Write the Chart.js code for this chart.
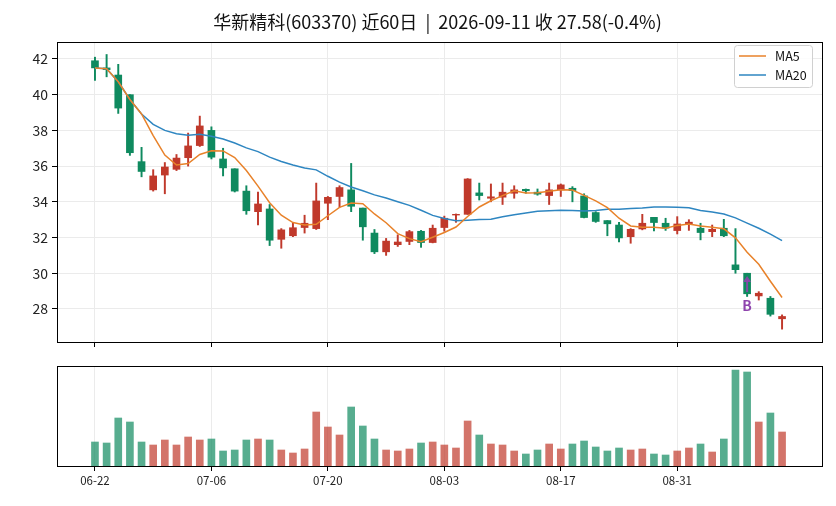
<!DOCTYPE html>
<html>
<head>
<meta charset="utf-8">
<script src="https://cdn.jsdelivr.net/npm/chart.js@4.4.1/dist/chart.umd.min.js"></script>
<style>
	body { margin: 0; background: #fff; }
	#wrap { position: relative; width: 836px; height: 506px; }
	canvas { position: absolute; left: 0; }
</style>
</head>
<body>
<div id="wrap">
	<canvas id="price-canvas" width="836" height="360" style="top:0"></canvas>
	<canvas id="vol-canvas" width="836" height="146" style="top:360px"></canvas>
</div>
<script>
// trading days
const dates = [
	'06-22','06-23','06-24','06-25','06-26','06-29','06-30','07-01','07-02','07-03',
	'07-06','07-07','07-08','07-09','07-10','07-13','07-14','07-15','07-16','07-17',
	'07-20','07-21','07-22','07-23','07-24','07-27','07-28','07-29','07-30','07-31',
	'08-03','08-04','08-05','08-06','08-07','08-10','08-11','08-12','08-13','08-14',
	'08-17','08-18','08-19','08-20','08-21','08-24','08-25','08-26','08-27','08-28',
	'08-31','09-01','09-02','09-03','09-04','09-07','09-08','09-09','09-10','09-11'
];
const tickIdx = [0, 10, 20, 30, 40, 50];
const priceTicks = [28, 30, 32, 34, 36, 38, 40, 42];

const opens = [41.9,41.5,41.1,40.0,36.25,34.67,35.5,35.82,36.47,37.15,38.0,36.4,35.85,34.6,33.45,33.6,31.9,32.1,32.56,32.5,33.92,34.3,34.67,33.65,32.25,31.2,31.6,31.78,32.35,31.72,32.56,33.26,33.3,34.5,34.2,34.26,34.48,34.7,34.54,34.35,34.67,34.76,34.33,33.4,32.95,32.7,32.05,32.48,33.13,32.8,32.39,32.74,32.52,32.33,32.52,30.47,30.0,28.73,28.6,27.45];
const highs = [42.1,42.25,41.7,40.0,37.05,35.8,36.2,36.65,37.85,38.8,38.2,37.0,35.85,34.9,34.55,33.85,32.5,32.8,33.25,35.05,34.3,34.9,36.15,33.65,32.45,31.95,32.15,32.4,32.4,32.7,33.2,33.32,35.3,35.05,35.0,35.05,34.9,34.72,34.72,35.05,35.0,34.85,34.45,33.45,32.95,32.85,32.5,33.3,33.13,33.08,33.17,33.0,32.8,32.7,33.02,32.5,30.0,28.97,28.7,27.67];
const lows = [40.8,41.0,38.95,36.6,35.4,34.6,34.45,35.75,36.0,37.1,36.4,35.45,34.55,33.3,32.7,31.55,31.4,32.05,32.25,32.45,33.0,33.7,33.45,31.85,31.1,31.0,31.5,31.6,31.45,31.7,32.35,32.85,33.3,34.1,34.0,33.85,34.2,34.48,34.37,33.85,34.3,34.0,33.1,32.85,32.1,31.75,31.68,32.43,32.37,32.4,32.2,32.4,31.87,32.05,32.05,30.0,28.7,28.5,27.6,26.87];
const closes = [41.5,41.4,39.25,36.75,35.7,35.45,35.95,36.45,37.13,38.25,36.5,35.9,34.6,33.5,33.88,31.85,32.43,32.55,32.8,34.05,34.25,34.8,33.75,32.6,31.2,31.8,31.75,32.33,31.72,32.52,33.08,33.3,35.28,34.35,34.28,34.54,34.67,34.62,34.43,34.67,34.95,34.63,33.12,32.9,32.77,31.98,32.46,32.8,32.84,32.53,32.76,32.86,32.28,32.46,32.1,30.2,28.85,28.88,27.7,27.58];

const ma5 = [41.5,41.45,40.72,39.73,38.92,37.71,36.62,36.06,36.14,36.65,36.86,36.85,36.48,35.75,34.88,33.95,33.25,32.84,32.70,32.74,33.22,33.69,33.93,33.89,33.32,32.83,32.22,31.94,31.76,32.02,32.28,32.59,33.18,33.71,34.06,34.35,34.62,34.49,34.51,34.59,34.67,34.66,34.36,34.05,33.67,33.08,32.65,32.58,32.57,32.52,32.68,32.76,32.65,32.58,32.49,31.98,31.18,30.50,29.55,28.64];
const ma20 = [41.5,41.45,40.72,39.73,38.92,38.34,38.0,37.81,37.73,37.78,37.67,37.52,37.29,37.02,36.81,36.50,36.26,36.06,35.89,35.79,35.43,35.10,34.83,34.62,34.39,34.21,34.00,33.80,33.53,33.24,33.07,32.94,32.97,33.01,33.03,33.17,33.28,33.38,33.47,33.50,33.53,33.52,33.49,33.51,33.59,33.59,33.63,33.65,33.71,33.71,33.69,33.67,33.52,33.43,33.32,33.10,32.81,32.52,32.19,31.83];

// volume (万手)
const volumes = [2.4,2.3,4.8,4.4,2.4,2.1,2.6,2.1,2.9,2.6,2.7,1.5,1.6,2.6,2.7,2.6,1.6,1.3,1.7,5.4,3.9,3.1,5.9,4.0,2.7,1.6,1.5,1.7,2.3,2.4,2.1,1.8,4.5,3.1,2.2,2.1,1.5,1.2,1.6,2.2,1.7,2.2,2.5,1.9,1.5,1.8,1.6,1.7,1.2,1.1,1.5,1.8,2.2,1.4,2.7,9.6,9.4,4.4,5.3,3.4];

// buy signal
const signalIdx = [56];
const signalText = ['B'];

const titleText = '华新精科(603370) 近60日  |  2026-09-11 收 27.58(-0.4%)';

const UP = '#c0392b', DOWN = '#0f8a5f';
const UP_V = 'rgba(192, 57, 43, 0.7)', DOWN_V = 'rgba(15, 138, 95, 0.7)';
const FONT = '"Noto Sans CJK SC", "Noto Sans", sans-serif';
const GRID = '#ebebeb';
const X_MIN = -3.26, X_MAX = 62.43;

const isUp = closes.map((c, i) => c >= opens[i]);
const bodyColors = isUp.map(u => u ? UP : DOWN);
const volColors = isUp.map(u => u ? UP_V : DOWN_V);

const bodyData = opens.map((o, i) => ({x: i, y: [o, closes[i]]}));
const wickData = lows.map((l, i) => ({x: i, y: [l, highs[i]]}));
const ma5Data = ma5.map((v, i) => ({x: i, y: v}));
const ma20Data = ma20.map((v, i) => ({x: i, y: v}));
const volData = volumes.map((v, i) => ({x: i, y: v}));

const framePlugin = {
	id: 'frame',
	afterDraw(chart) {
		const a = chart.chartArea, ctx = chart.ctx;
		ctx.save();
		ctx.strokeStyle = '#000';
		ctx.lineWidth = 1;
		ctx.strokeRect(Math.round(a.left) + 0.5, Math.round(a.top) + 0.5, Math.round(a.right - a.left), Math.round(a.bottom - a.top));
		ctx.restore();
	}
};

const titlePlugin = {
	id: 'titleText',
	afterDraw(chart) {
		const a = chart.chartArea, ctx = chart.ctx;
		ctx.save();
		ctx.font = '18px ' + FONT;
		ctx.fillStyle = '#111';
		ctx.textAlign = 'center';
		ctx.textBaseline = 'middle';
		ctx.fillText(titleText, (a.left + a.right) / 2 - 2, 22);
		ctx.restore();
	}
};

const legendPlugin = {
	id: 'maLegend',
	afterDraw(chart) {
		const ctx = chart.ctx;
		const items = chart.data.datasets.filter(d => d.type === 'line');
		const x0 = 734, y0 = 45, w = 78, h = 42;
		ctx.save();
		ctx.fillStyle = 'rgba(255,255,255,0.85)';
		ctx.strokeStyle = '#d0d0d0';
		ctx.lineWidth = 1;
		ctx.beginPath();
		ctx.roundRect(x0 + 0.5, y0 + 0.5, w, h, 3);
		ctx.fill();
		ctx.stroke();
		ctx.font = '12.5px ' + FONT;
		ctx.textBaseline = 'middle';
		items.forEach((d, k) => {
			const y = y0 + 11 + k * 19;
			ctx.strokeStyle = d.borderColor;
			ctx.lineWidth = 1.5;
			ctx.beginPath();
			ctx.moveTo(x0 + 5, y);
			ctx.lineTo(x0 + 32, y);
			ctx.stroke();
			ctx.fillStyle = '#111';
			ctx.fillText(d.label, x0 + 41, y);
		});
		ctx.restore();
	}
};

const signalPlugin = {
	id: 'signals',
	afterDatasetsDraw(chart) {
		const ctx = chart.ctx, xs = chart.scales.x, ys = chart.scales.y;
		ctx.save();
		signalIdx.forEach((idx, k) => {
			const x = xs.getPixelForValue(idx);
			const yTail = ys.getPixelForValue(lows[idx] + 0.25);
			const yHead = ys.getPixelForValue(lows[idx] + 1.15);
			ctx.strokeStyle = 'rgba(142, 68, 173, 0.9)';
			ctx.fillStyle = 'rgba(142, 68, 173, 0.9)';
			ctx.lineWidth = 2;
			ctx.beginPath();
			ctx.moveTo(x, yTail);
			ctx.lineTo(x, yHead + 4);
			ctx.stroke();
			ctx.beginPath();
			ctx.moveTo(x, yHead);
			ctx.lineTo(x - 4, yHead + 6);
			ctx.lineTo(x + 4, yHead + 6);
			ctx.closePath();
			ctx.fill();
			ctx.font = 'bold 14px ' + FONT;
			ctx.fillStyle = '#8e44ad';
			ctx.textAlign = 'center';
			ctx.textBaseline = 'middle';
			ctx.fillText(signalText[k], x, ys.getPixelForValue(lows[idx] - 0.5));
		});
		ctx.restore();
	}
};

Chart.defaults.font.family = FONT;
Chart.defaults.color = '#222';

new Chart('price-canvas', {
	type: 'bar',
	data: {
		datasets: [
			{
				type: 'line',
				label: 'MA5',
				data: ma5Data,
				borderColor: '#e8822a',
				borderWidth: 1.5,
				pointRadius: 0,
				tension: 0,
				order: 0
			},
			{
				type: 'line',
				label: 'MA20',
				data: ma20Data,
				borderColor: '#2e86c1',
				borderWidth: 1.5,
				pointRadius: 0,
				tension: 0,
				order: 0
			},
			{
				label: 'body',
				data: bodyData,
				backgroundColor: bodyColors,
				barThickness: 7,
				grouped: false,
				order: 1
			},
			{
				label: 'wick',
				data: wickData,
				backgroundColor: bodyColors,
				barThickness: 1.3,
				grouped: false,
				order: 2
			}
		]
	},
	options: {
		responsive: false,
		animation: false,
		layout: {
			padding: {top: 42, right: 14, left: 0, bottom: 0}
		},
		scales: {
			x: {
				type: 'linear',
				min: X_MIN,
				max: X_MAX,
				offset: false,
				afterBuildTicks: scale => { scale.ticks = tickIdx.map(v => ({value: v})); },
				afterFit: scale => { scale.height = 18; },
				ticks: {display: false},
				grid: {color: GRID, tickColor: '#000', tickLength: 5, offset: false},
				border: {display: false}
			},
			y: {
				min: 26.15,
				max: 42.95,
				afterBuildTicks: scale => { scale.ticks = priceTicks.map(v => ({value: v})); },
				afterFit: scale => { scale.width = 57; },
				ticks: {font: {size: 14}, padding: 4, color: '#222'},
				grid: {color: GRID, tickColor: '#000', tickLength: 5},
				border: {display: false}
			}
		},
		plugins: {
			tooltip: {enabled: false},
			legend: {display: false}
		}
	},
	plugins: [framePlugin, titlePlugin, legendPlugin, signalPlugin]
});

new Chart('vol-canvas', {
	type: 'bar',
	data: {
		datasets: [
			{
				label: 'volume',
				data: volData,
				backgroundColor: volColors,
				barThickness: 7
			}
		]
	},
	options: {
		responsive: false,
		animation: false,
		layout: {
			padding: {top: 6, right: 14, left: 57, bottom: 0}
		},
		scales: {
			x: {
				type: 'linear',
				min: X_MIN,
				max: X_MAX,
				offset: false,
				afterBuildTicks: scale => { scale.ticks = tickIdx.map(v => ({value: v})); },
				afterFit: scale => { scale.height = 40; },
				ticks: {
					font: {size: 11.5},
					padding: 3,
					color: '#222',
					maxRotation: 0,
					callback: value => dates[value]
				},
				grid: {color: GRID, tickColor: '#000', tickLength: 5, offset: false},
				border: {display: false}
			},
			y: {
				display: false,
				min: 0,
				max: 10
			}
		},
		plugins: {
			tooltip: {enabled: false},
			legend: {display: false}
		}
	},
	plugins: [framePlugin]
});
</script>
</body>
</html>
